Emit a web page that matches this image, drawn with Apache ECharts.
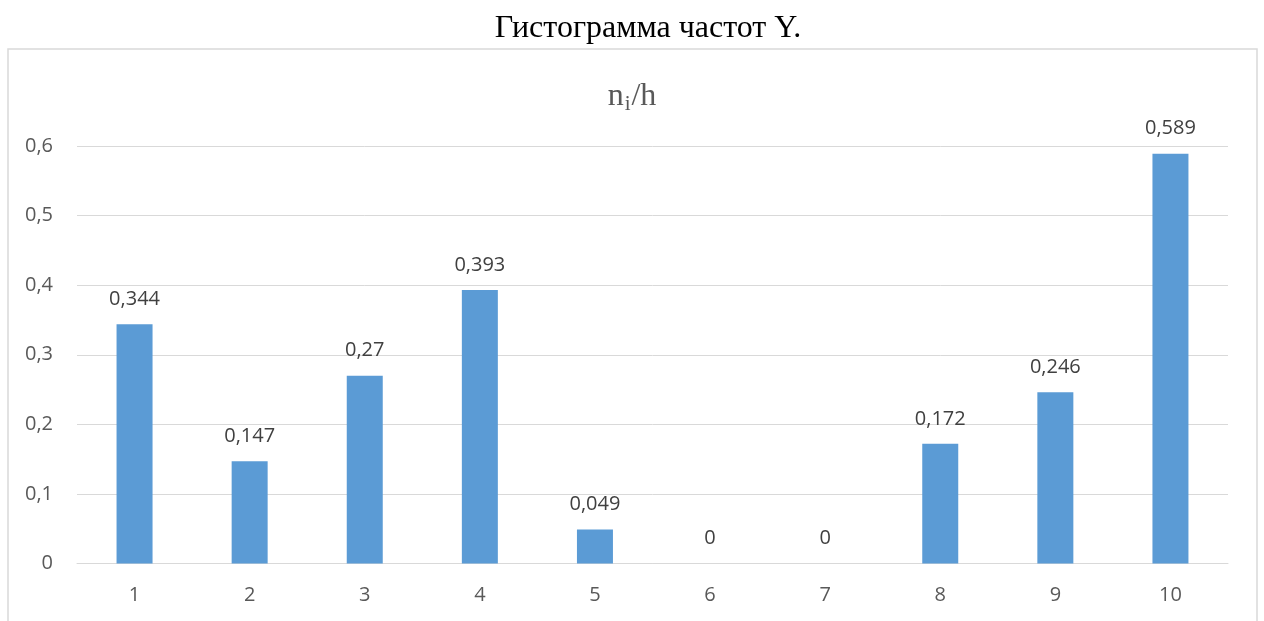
<!DOCTYPE html>
<html>
<head>
<meta charset="utf-8">
<script src="https://cdn.jsdelivr.net/npm/echarts@6/dist/echarts.min.js"></script>
<style>
html,body{margin:0;padding:0;background:#fff;}
#chart{width:1264px;height:621px;}
</style>
</head>
<body>
<div id="chart"></div>
<script>
const categories = ['1','2','3','4','5','6','7','8','9','10'];
const values = [0.344, 0.147, 0.27, 0.393, 0.049, 0, 0, 0.172, 0.246, 0.589];
const yTicks = [0, 0.1, 0.2, 0.3, 0.4, 0.5, 0.6];
const mainTitle = 'Гистограмма частот Y.';

const fmt = v => String(v).replace('.', ',');

const chart = echarts.init(document.getElementById('chart'));
chart.setOption({
  animation: false,
  backgroundColor: '#fff',
  graphic: [
    { type: 'rect', shape: { x: 8, y: 49, width: 1249, height: 600 },
      style: { fill: 'none', stroke: '#D9D9D9', lineWidth: 1.5 }, z: -1 },
    { type: 'text', x: 648, y: 29,
      style: { text: mainTitle, font: '32px "Liberation Serif"', fill: '#000',
               align: 'center', verticalAlign: 'middle' } },
    { type: 'text', x: 632, y: 97,
      style: { text: '{n|n}{i|i}{n|/h}', align: 'center', verticalAlign: 'middle',
        rich: {
          n: { font: '32px "Liberation Serif"', fill: '#595959', color: '#595959' },
          i: { font: '21px "Liberation Serif"', fill: '#595959', color: '#595959', padding: [14, 1, 0, 1] }
        } } }
  ],
  grid: { left: 77, right: 36, top: 146, bottom: 57.5, containLabel: false },
  xAxis: {
    type: 'category',
    data: categories,
    axisLine: { show: true, lineStyle: { color: '#D9D9D9', width: 1 } },
    axisTick: { show: false },
    axisLabel: { color: '#595959', fontFamily: 'Open Sans', fontSize: 20, margin: 22 }
  },
  yAxis: {
    type: 'value',
    min: yTicks[0],
    max: yTicks[yTicks.length - 1],
    interval: 0.1,
    axisLine: { show: false },
    axisTick: { show: false },
    splitLine: { lineStyle: { color: '#D9D9D9', width: 1 } },
    axisLabel: { color: '#595959', fontFamily: 'Open Sans', fontSize: 20, margin: 24,
                 formatter: v => fmt(Math.round(v * 10) / 10) }
  },
  series: [{
    type: 'bar',
    data: values,
    barWidth: 36,
    itemStyle: { color: '#5B9BD5' },
    label: {
      show: true, position: 'top', distance: 15,
      color: '#404040', fontFamily: 'Open Sans', fontSize: 20,
      formatter: p => fmt(p.value)
    }
  }]
});
</script>
</body>
</html>
